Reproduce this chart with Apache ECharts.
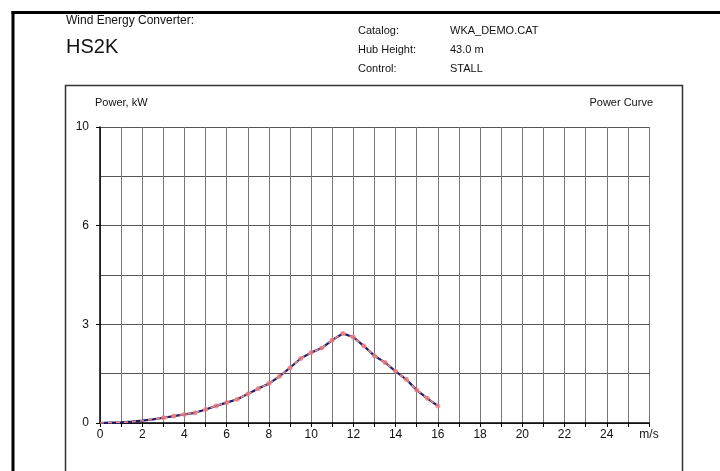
<!DOCTYPE html>
<html>
<head>
<meta charset="utf-8">
<script src="https://cdn.jsdelivr.net/npm/echarts@6/dist/echarts.min.js"></script>
<style>html,body{margin:0;padding:0;background:#fff}#c{width:720px;height:471px}</style>
</head>
<body>
<div id="c"></div>
<script>
// Wind speed (m/s) and power (kW)
const windSpeed = [0, 0.5, 1, 1.5, 2, 2.5, 3, 3.5, 4, 4.5, 5, 5.5, 6, 6.5, 7, 7.5, 8, 8.5, 9, 9.5, 10, 10.5, 11, 11.5, 12, 12.5, 13, 13.5, 14, 14.5, 15, 15.5, 16];
const power = [0, 0.01, 0.02, 0.04, 0.07, 0.11, 0.16, 0.21, 0.26, 0.31, 0.41, 0.52, 0.62, 0.72, 0.88, 1.05, 1.2, 1.42, 1.68, 1.96, 2.14, 2.28, 2.52, 2.72, 2.61, 2.34, 2.04, 1.84, 1.57, 1.33, 1.0, 0.75, 0.52];
const markerFrom = 3; // markers drawn from this wind speed on
const yTickLabels = {0: '0', 3: '3', 6: '6', 9: '10'};
const xUnitLabel = 'm/s';

const lineData = windSpeed.map((x, i) => [x, power[i]]);
const markerData = lineData.filter(d => d[0] >= markerFrom);

const chart = echarts.init(document.getElementById('c'), null, {renderer: 'canvas'});
const font = '"Liberation Sans", Arial, sans-serif';
chart.setOption({
  animation: false,
  backgroundColor: '#fff',
  textStyle: {fontFamily: font},
  grid: {left: 100, top: 127, right: 71, bottom: 48, containLabel: false},
  xAxis: {
    type: 'value', min: 0, max: 26, interval: 1,
    axisLine: {show: true, lineStyle: {color: '#000', width: 1.5}},
    axisTick: {show: true, length: 4, lineStyle: {color: '#000', width: 1}},
    splitLine: {show: true, lineStyle: {color: '#777', width: 1}},
    axisLabel: {
      color: '#111', fontSize: 12, fontFamily: font, margin: 6,
      formatter: v => v === 26 ? xUnitLabel : (v % 2 === 0 ? String(v) : '')
    }
  },
  yAxis: {
    type: 'value', min: 0, max: 9, interval: 3,
    axisLine: {show: true, lineStyle: {color: '#000', width: 1.5}},
    axisTick: {show: true, length: 4, lineStyle: {color: '#000', width: 1}},
    splitLine: {show: true, lineStyle: {color: '#555', width: 1}},
    minorTick: {show: false, splitNumber: 2},
    minorSplitLine: {show: true, lineStyle: {color: '#555', width: 1}},
    axisLabel: {
      color: '#111', fontSize: 12, fontFamily: font, margin: 11,
      formatter: v => yTickLabels[v] !== undefined ? yTickLabels[v] : ''
    }
  },
  series: [
    {
      type: 'line', data: lineData, symbol: 'none', z: 3,
      lineStyle: {color: '#1c1c6b', width: 2.2}
    },
    {
      type: 'line', data: lineData, symbol: 'none', z: 4,
      lineStyle: {color: '#f28a8a', width: 1.5, type: [4, 4]}
    },
    {
      type: 'scatter', data: markerData, symbol: 'circle', symbolSize: 5, z: 5,
      itemStyle: {color: '#f07f7f'}
    }
  ],
  graphic: [
    {type: 'rect', shape: {x: 11.5, y: 11, width: 720, height: 3}, style: {fill: '#000'}, silent: true},
    {type: 'rect', shape: {x: 11.5, y: 11, width: 3, height: 470}, style: {fill: '#000'}, silent: true},
    {type: 'rect', shape: {x: 65.5, y: 85.5, width: 617, height: 400}, style: {fill: null, stroke: '#333', lineWidth: 1.5}, silent: true},
    {type: 'text', left: 66, top: 15, style: {text: 'Wind Energy Converter:', font: '12px ' + font, fill: '#111'}},
    {type: 'text', left: 66, top: 37, style: {text: 'HS2K', font: '20px ' + font, fill: '#111'}},
    {type: 'text', left: 358, top: 25, style: {text: 'Catalog:', font: '11px ' + font, fill: '#111'}},
    {type: 'text', left: 358, top: 44, style: {text: 'Hub Height:', font: '11px ' + font, fill: '#111'}},
    {type: 'text', left: 358, top: 63, style: {text: 'Control:', font: '11px ' + font, fill: '#111'}},
    {type: 'text', left: 450, top: 25, style: {text: 'WKA_DEMO.CAT', font: '11px ' + font, fill: '#111'}},
    {type: 'text', left: 450, top: 44, style: {text: '43.0 m', font: '11px ' + font, fill: '#111'}},
    {type: 'text', left: 450, top: 63, style: {text: 'STALL', font: '11px ' + font, fill: '#111'}},
    {type: 'text', left: 95, top: 97, style: {text: 'Power, kW', font: '11px ' + font, fill: '#111'}},
    {type: 'text', right: 67, top: 97, style: {text: 'Power Curve', font: '11px ' + font, fill: '#111'}}
  ]
});
</script>
</body>
</html>
